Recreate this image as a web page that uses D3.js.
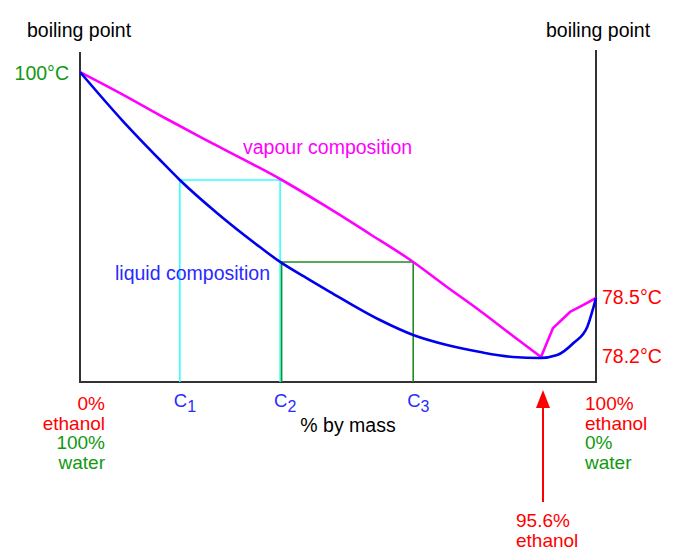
<!DOCTYPE html>
<html>
<head>
<meta charset="utf-8">
<script src="https://cdn.jsdelivr.net/npm/d3@7"></script>
<style>
  body { margin: 0; background: #fff; }
  text { font-family: "Liberation Sans", Arial, sans-serif; font-size: 19.5px; }
  text.stack { font-size: 19px; }
</style>
</head>
<body>
<div id="chart"></div>
<script>
// values (% ethanol by mass, temperature in °C)
var liquidPct  = [0, 8.7, 16.6, 20.7, 28.4, 37.3, 41.5, 47.7, 51.9, 62.2, 69.1, 76.1, 83.0, 89.8, 95.4, 96.9, 98.2, 99.3, 99.8, 100];
var liquidTemp = [100, 95.43, 91.63, 89.73, 86.59, 83.35, 81.93, 80.21, 79.07, 78.388, 78.312, 78.261, 78.225, 78.2, 78.195, 78.21, 78.271, 78.353, 78.454, 78.5];

var vapourPct  = [0, 8.3, 18.0, 24.9, 37.3, 41.5, 51.2, 60.1, 69.1, 76.1, 83.0, 89.8, 95.6, 96.56, 97.92, 98.96, 100];
var vapourTemp = [100, 98.0, 95.53, 93.82, 90.87, 89.82, 87.16, 84.59, 81.93, 79.55, 78.434, 78.307, 78.2, 78.347, 78.429, 78.464, 78.5];

// tie lines: C1 -> C2 at the first temperature, C2 -> C3 at the second
var tiePct  = [20.7, 41.5, 69.1];
var tieTemp = [89.73, 81.93];
var tieNames = ["1", "2", "3"];

var azeotropePct = 95.6;
var leftTemp = 100;
var rightTemps = [78.5, 78.2];

var width = 682, height = 557;

var svg = d3.select("#chart")
  .append("svg")
  .attr("width", width)
  .attr("height", height);

// schematic scales (the diagram is not drawn to scale)
var x = d3.scaleLinear().domain([0, azeotropePct, 100]).range([80, 541, 596]);
var y = d3.scaleLinear().domain([100, 78.5, 78.2]).range([72, 298, 357]);
var axisY = 382;

var red = "#ff0000", green = "#119911", labelBlue = "#2a2aff";

// frame
svg.append("line").attr("x1", x(0)).attr("x2", x(0)).attr("y1", 52).attr("y2", axisY)
  .attr("stroke", "#333").attr("stroke-width", 2);
svg.append("line").attr("x1", x(100)).attr("x2", x(100)).attr("y1", 50).attr("y2", axisY)
  .attr("stroke", "#333").attr("stroke-width", 2);
svg.append("line").attr("x1", x(0) - 1).attr("x2", x(100) + 1).attr("y1", axisY).attr("y2", axisY)
  .attr("stroke", "#333").attr("stroke-width", 2);

// tie lines
var c = tiePct.map(function (d) { return x(d); });
svg.append("path")
  .attr("d", "M" + c[0] + "," + axisY + "V" + y(tieTemp[0]) + "H" + c[1] + "V" + axisY)
  .attr("fill", "none").attr("stroke", "#33ffff").attr("stroke-width", 1.6);
svg.append("path")
  .attr("d", "M" + (c[1] + 1.5) + "," + axisY + "V" + y(tieTemp[1]) + "H" + c[2] + "V" + axisY)
  .attr("fill", "none").attr("stroke", "#228b22").attr("stroke-width", 1.6);

// curves
var smooth = d3.line()
  .x(function (d) { return x(d[0]); })
  .y(function (d) { return y(d[1]); })
  .curve(d3.curveMonotoneX);
var straight = d3.line()
  .x(function (d) { return x(d[0]); })
  .y(function (d) { return y(d[1]); });

// vapour curve has a sharp corner at the azeotrope: draw it as two pieces
var vapour = d3.zip(vapourPct, vapourTemp);
var split = vapourPct.indexOf(azeotropePct);
svg.append("path")
  .datum(vapour.slice(0, split + 1))
  .attr("fill", "none")
  .attr("stroke", "#ff00ff")
  .attr("stroke-width", 2.6)
  .attr("d", smooth);
svg.append("path")
  .datum(vapour.slice(split))
  .attr("fill", "none")
  .attr("stroke", "#ff00ff")
  .attr("stroke-width", 2.6)
  .attr("stroke-linejoin", "round")
  .attr("d", straight);

svg.append("path")
  .datum(d3.zip(liquidPct, liquidTemp))
  .attr("fill", "none")
  .attr("stroke", "#0000ee")
  .attr("stroke-width", 2.6)
  .attr("d", smooth);

// headings
svg.append("text").attr("x", x(0) - 53).attr("y", 37).text("boiling point");
svg.append("text").attr("x", x(100) - 50).attr("y", 37).text("boiling point");

// temperature labels
svg.append("text").attr("x", x(0) - 11).attr("y", y(leftTemp) + 8)
  .attr("text-anchor", "end").attr("fill", green).text(leftTemp + "°C");
svg.selectAll(".rt")
  .data(rightTemps)
  .enter().append("text")
  .attr("x", x(100) + 6)
  .attr("y", function (d) { return y(d) + 6; })
  .attr("fill", red)
  .text(function (d) { return d + "°C"; });

// curve labels
svg.append("text").attr("x", 243).attr("y", 154).attr("fill", "#ff00ff").text("vapour composition");
svg.append("text").attr("x", 115).attr("y", 280).attr("fill", labelBlue).text("liquid composition");

// C1, C2, C3
var cl = svg.selectAll(".cl")
  .data(tiePct)
  .enter().append("text")
  .attr("x", function (d) { return x(d) - 6; })
  .attr("y", 407)
  .attr("fill", labelBlue)
  .style("font-size", "18.5px");
cl.append("tspan").text("C");
cl.append("tspan")
  .attr("dy", 5)
  .style("font-size", "16px")
  .text(function (d, i) { return tieNames[i]; });

// axis title
svg.append("text").attr("x", (x(0) + x(100)) / 2 + 10).attr("y", 432)
  .attr("text-anchor", "middle").text("% by mass");

// end labels
var leftLines = [["0%", red], ["ethanol", red], ["100%", green], ["water", green]];
var rightLines = [["100%", red], ["ethanol", red], ["0%", green], ["water", green]];
svg.selectAll(".ll")
  .data(leftLines)
  .enter().append("text")
  .attr("class", "stack")
  .attr("x", x(0) + 25)
  .attr("y", function (d, i) { return 410 + i * 19.5; })
  .attr("text-anchor", "end")
  .attr("fill", function (d) { return d[1]; })
  .text(function (d) { return d[0]; });
svg.selectAll(".rl")
  .data(rightLines)
  .enter().append("text")
  .attr("class", "stack")
  .attr("x", x(100) - 11)
  .attr("y", function (d, i) { return 410 + i * 19.5; })
  .attr("fill", function (d) { return d[1]; })
  .text(function (d) { return d[0]; });

// azeotrope arrow
var ax = x(azeotropePct) + 2;
svg.append("line").attr("x1", ax).attr("x2", ax).attr("y1", 502).attr("y2", 404)
  .attr("stroke", red).attr("stroke-width", 2);
svg.append("path")
  .attr("d", "M" + ax + ",390L" + (ax + 7) + ",408L" + (ax - 7) + ",408Z")
  .attr("fill", red);
svg.append("text").attr("class", "stack").attr("x", ax - 27).attr("y", 527).attr("fill", red).text(azeotropePct + "%");
svg.append("text").attr("class", "stack").attr("x", ax - 27).attr("y", 547).attr("fill", red).text("ethanol");
</script>
</body>
</html>
